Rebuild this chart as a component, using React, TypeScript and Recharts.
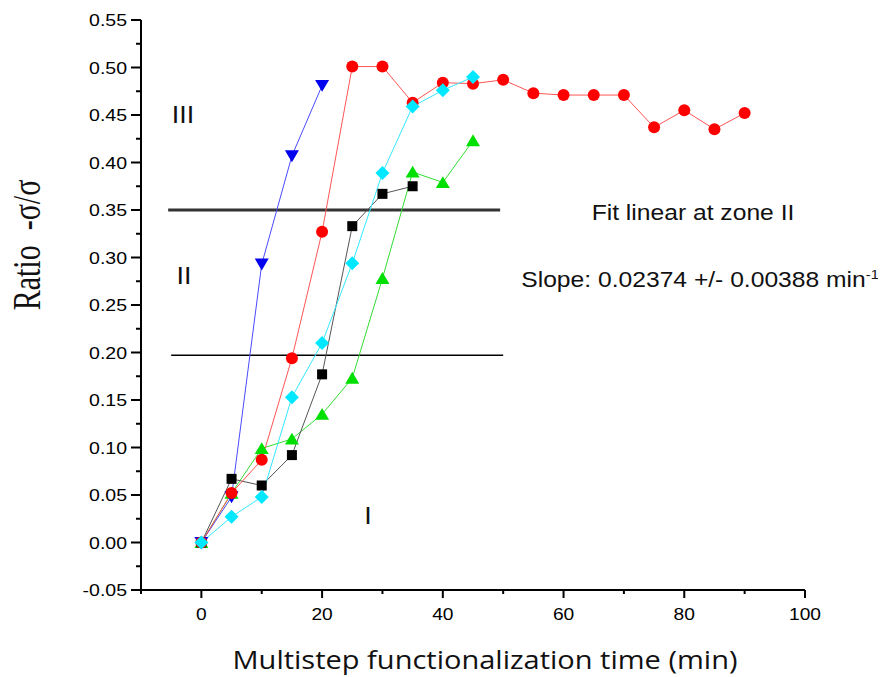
import React from 'react';
import { LineChart, Line, XAxis, YAxis, ReferenceLine } from 'recharts';

// minutes / ratio values
const redX = [0, 5, 10, 15, 20, 25, 30, 35, 40, 45, 50, 55, 60, 65, 70, 75, 80, 85, 90];
const redY = [0, 0.052, 0.087, 0.194, 0.327, 0.501, 0.501, 0.463, 0.484, 0.483, 0.487, 0.473, 0.471, 0.471, 0.471, 0.437, 0.455, 0.435, 0.452];

const blueX = [0, 5, 10, 15, 20];
const blueY = [0, 0.048, 0.293, 0.407, 0.481];

const cyanX = [0, 5, 10, 15, 20, 25, 30, 35, 40, 45];
const cyanY = [0, 0.027, 0.048, 0.153, 0.21, 0.294, 0.389, 0.459, 0.476, 0.49];

const blackX = [0, 5, 10, 15, 20, 25, 30, 35];
const blackY = [0, 0.067, 0.06, 0.092, 0.177, 0.333, 0.367, 0.375];

const greenX = [0, 5, 10, 15, 20, 25, 30, 35, 40, 45];
const greenY = [0, 0.052, 0.099, 0.109, 0.135, 0.173, 0.278, 0.39, 0.379, 0.423];

const xTicks = [-10, 0, 10, 20, 30, 40, 50, 60, 70, 80, 90, 100];
const yTicks = [-0.05, -0.025, 0, 0.025, 0.05, 0.075, 0.1, 0.125, 0.15, 0.175, 0.2, 0.225, 0.25, 0.275, 0.3, 0.325, 0.35, 0.375, 0.4, 0.425, 0.45, 0.475, 0.5, 0.525, 0.55];

const zoneBounds = [0.35, 0.197];

const pts = (xs: number[], ys: number[]) => xs.map((x, i) => ({ x, y: ys[i] }));

// the original figure is stretched sideways a bit, so text gets a small scaleX
const XTick = (props: any) => {
  const { x, y, payload } = props;
  const v = payload.value;
  const major = v % 20 === 0;
  return (
    <g>
      <line x1={x} x2={x} y1={y} y2={y + (major ? 8 : 4)} stroke="#000" strokeWidth={2} />
      {major && v >= 0 && (
        <text transform={`translate(${x},${y + 30}) scale(1.2,1)`} textAnchor="middle" fontSize={16} fill="#000" fontFamily="Liberation Sans, Arial">
          {v}
        </text>
      )}
    </g>
  );
};

const YTick = (props: any) => {
  const { x, y, payload, index } = props;
  const major = index % 2 === 0;
  return (
    <g>
      <line x1={x - (major ? 10 : 5)} x2={x} y1={y} y2={y} stroke="#000" strokeWidth={2} />
      {major && (
        <text transform={`translate(${x - 14},${y + 6}) scale(1.22,1)`} textAnchor="end" fontSize={16} fill="#000" fontFamily="Liberation Sans, Arial">
          {payload.value.toFixed(2)}
        </text>
      )}
    </g>
  );
};

const Tri = (color: string, down: boolean) => (p: any) => {
  const { cx, cy } = p;
  if (cx == null || cy == null) return <g />;
  const s = 7;
  const d = down
    ? `M${cx - s},${cy - s * 0.8} L${cx + s},${cy - s * 0.8} L${cx},${cy + s * 0.9} Z`
    : `M${cx - s},${cy + s * 0.8} L${cx + s},${cy + s * 0.8} L${cx},${cy - s * 0.9} Z`;
  return <path d={d} fill={color} />;
};

const Diamond = (p: any) => {
  const { cx, cy } = p;
  if (cx == null || cy == null) return <g />;
  const s = 7;
  return <path d={`M${cx},${cy - s} L${cx + s},${cy} L${cx},${cy + s} L${cx - s},${cy} Z`} fill="#00e8ff" />;
};

const Square = (p: any) => {
  const { cx, cy } = p;
  if (cx == null || cy == null) return <g />;
  return <rect x={cx - 5} y={cy - 5} width={10} height={10} fill="#000" />;
};

const txt: React.CSSProperties = {
  position: 'absolute',
  transform: 'translate(-50%,-50%) scaleX(1.12)',
  whiteSpace: 'nowrap',
  fontFamily: 'Liberation Sans, Arial',
  color: '#111',
};

export default function App() {
  return (
    <div style={{ position: 'relative', width: 870, height: 669, background: '#fff' }}>
      <LineChart width={870} height={669} margin={{ top: 12, right: 73, bottom: 0, left: 8 }}>
        <XAxis
          type="number"
          dataKey="x"
          domain={[-10, 100]}
          ticks={xTicks}
          allowDataOverflow
          stroke="#000"
          strokeWidth={2}
          tickLine={false}
          tickSize={0}
          tickMargin={0}
          tick={<XTick />}
          height={87}
        />
        <YAxis
          type="number"
          dataKey="y"
          domain={[-0.05, 0.55]}
          ticks={yTicks}
          interval={0}
          allowDataOverflow
          stroke="#000"
          strokeWidth={2}
          tickLine={false}
          tickSize={0}
          tickMargin={0}
          tick={<YTick />}
          width={125}
        />
        <ReferenceLine segment={[{ x: -5.5, y: zoneBounds[0] }, { x: 49.5, y: zoneBounds[0] }]} stroke="#333" strokeWidth={3} />
        <ReferenceLine segment={[{ x: -5, y: zoneBounds[1] }, { x: 50, y: zoneBounds[1] }]} stroke="#000" strokeWidth={1.5} />
        <Line data={pts(greenX, greenY)} dataKey="y" stroke="#33dd33" strokeWidth={1} dot={Tri('#00e000', false)} isAnimationActive={false} />
        <Line data={pts(blackX, blackY)} dataKey="y" stroke="#555" strokeWidth={1} dot={Square} isAnimationActive={false} />
        <Line data={pts(blueX, blueY)} dataKey="y" stroke="#4a4aff" strokeWidth={1} dot={Tri('#0000ee', true)} isAnimationActive={false} />
        <Line data={pts(redX, redY)} dataKey="y" stroke="#ff5555" strokeWidth={1} dot={{ r: 6, fill: '#ff0000', stroke: 'none' }} isAnimationActive={false} />
        <Line data={pts(cyanX, cyanY)} dataKey="y" stroke="#33e8ff" strokeWidth={1} dot={Diamond} isAnimationActive={false} />
      </LineChart>

      <div style={{ ...txt, left: 175, top: 107, fontSize: 24 }}>III</div>
      <div style={{ ...txt, left: 176, top: 268, fontSize: 24 }}>II</div>
      <div style={{ ...txt, left: 360, top: 508, fontSize: 24 }}>I</div>
      <div style={{ ...txt, left: 685, top: 205, fontSize: 22 }}>Fit linear at zone II</div>
      <div style={{ ...txt, left: 692, top: 272, fontSize: 22 }}>
        Slope: 0.02374 +/- 0.00388 min<sup style={{ fontSize: 13 }}>-1</sup>
      </div>
      <div
        style={{
          ...txt,
          left: 19,
          top: 237,
          fontSize: 30,
          fontFamily: 'Liberation Serif, Times New Roman',
          transform: 'translate(-50%,-50%) scaleX(1.3) rotate(-90deg)',
        }}
      >
        Ratio&nbsp;&nbsp;-σ/σ
      </div>
      <div
        style={{
          ...txt,
          left: 477,
          top: 651,
          fontSize: 25,
          fontFamily: 'Open Sans, Noto Sans',
          transform: 'translate(-50%,-50%) scaleX(1.16)',
        }}
      >
        Multistep functionalization time (min)
      </div>
    </div>
  );
}
